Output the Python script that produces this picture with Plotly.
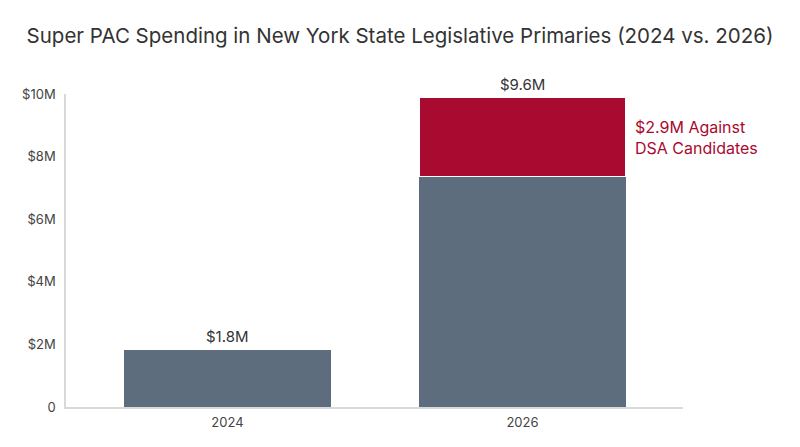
import plotly.graph_objects as go

# values ($M)
years = ["2024", "2026"]
other_spend = [1.84, 7.35]
dsa_spend = [0, 2.55]
total_labels = ["$1.8M", "$9.6M"]
dsa_label = "$2.9M Against<br>DSA Candidates"
y_ticks = [0, 2, 4, 6, 8, 10]
y_tick_text = ["0", "$2M", "$4M", "$6M", "$8M", "$10M"]

GRAY = "#5e6d7d"
RED = "#a80a30"

fig = go.Figure()
fig.add_trace(go.Bar(
    x=years, y=other_spend, marker=dict(color=GRAY, line=dict(width=0)),
    width=0.7, hoverinfo="skip", showlegend=False,
))
fig.add_trace(go.Bar(
    x=years, y=dsa_spend, marker=dict(color=RED, line=dict(color="white", width=1)),
    width=0.7, hoverinfo="skip", showlegend=False,
))

# total labels above each bar (category index as x)
for i, (lab, a, b) in enumerate(zip(total_labels, other_spend, dsa_spend)):
    fig.add_annotation(x=i, y=a + b, text=lab, showarrow=False, yanchor="bottom",
                       yshift=1, font=dict(size=15, color="#333333"))

# DSA callout next to the red segment
fig.add_annotation(x=1.35, y=other_spend[1] + dsa_spend[1] / 2, text=dsa_label,
                   showarrow=False, xanchor="left", xshift=7, align="left",
                   font=dict(size=16, color=RED))

fig.update_layout(
    barmode="stack",
    width=800, height=447,
    margin=dict(l=66, r=117, t=94, b=40),
    paper_bgcolor="white", plot_bgcolor="white",
    font=dict(family="Inter, Roboto, sans-serif", color="#444444"),
    title=dict(text="Super PAC Spending in New York State Legislative Primaries (2024 vs. 2026)",
               x=0.5, xanchor="center", y=0.92, yanchor="middle",
               font=dict(size=20.5, color="#333333")),
    bargap=0.3,
)
fig.update_xaxes(type="category", range=[-0.547, 1.544], showline=True, linecolor="#d9d9d9",
                 linewidth=1.5, ticks="", tickfont=dict(size=13, color="#444444"), showgrid=False,
                 ticklabelstandoff=3)
fig.update_yaxes(range=[0, 10], tickvals=y_ticks, ticktext=y_tick_text, showgrid=False,
                 zeroline=False, showline=True, linecolor="#d9d9d9", linewidth=1.5,
                 ticks="", tickfont=dict(size=13, color="#444444"), ticklabelstandoff=6)

fig.write_html("out.html", config={"displayModeBar": False},
               post_script="document.body.style.margin='0';")
